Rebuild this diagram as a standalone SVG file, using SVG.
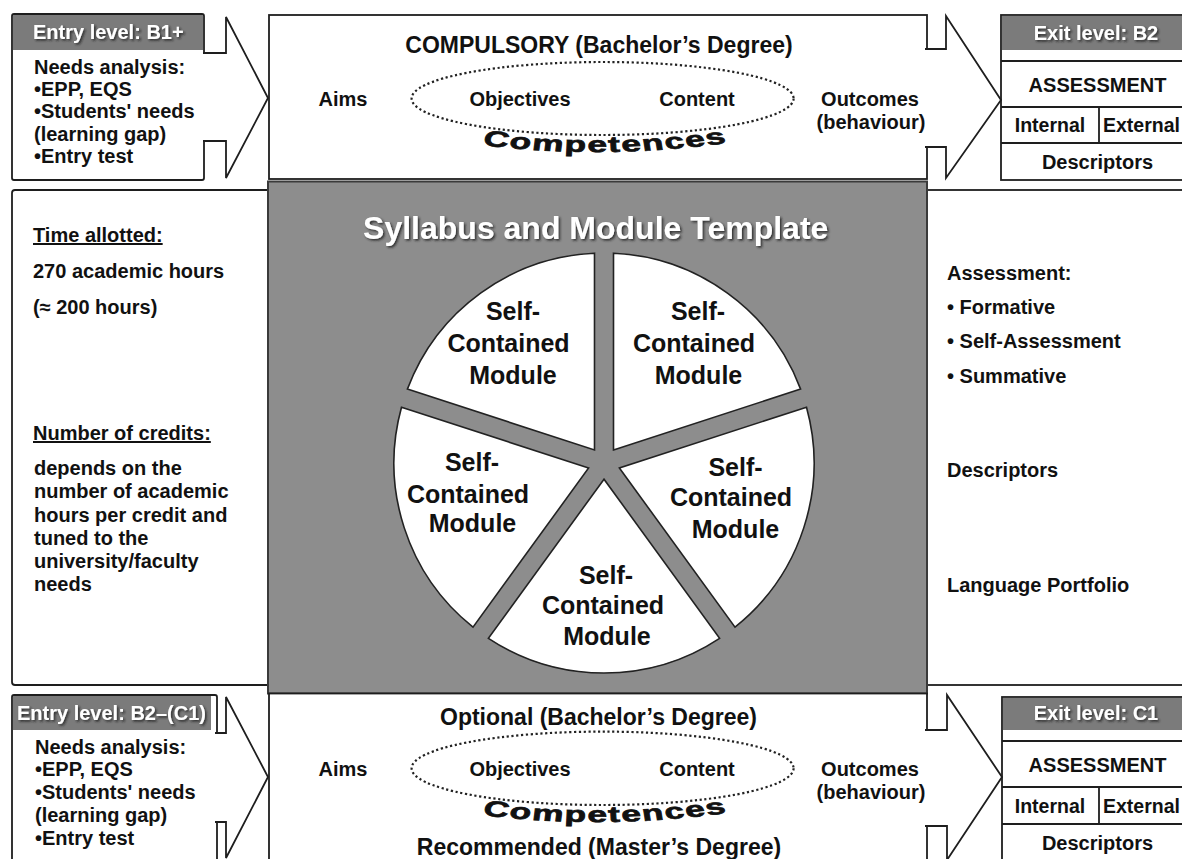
<svg xmlns="http://www.w3.org/2000/svg" width="1182" height="859" viewBox="0 0 1182 859">
<defs>
<style>
.ln{fill:#fff;stroke:#1e1e1e;stroke-width:1.8}
.sep{fill:none;stroke:#1e1e1e;stroke-width:1.8}
.hd{fill:#7b7b7b}
.tx{font-family:"Liberation Sans",Arial,Helvetica,sans-serif;font-weight:700;fill:#111}
.f20{font-size:20px}
.f19{font-size:19.5px}
.f23{font-size:23px}
.f25{font-size:25px}
.c{text-anchor:middle}
.wh{fill:#fff;filter:url(#sh)}
.dot{fill:none;stroke:#222;stroke-width:2.2;stroke-dasharray:2.2 2.6}
.slice{fill:#fff;stroke:#222;stroke-width:1.6}
.ul{text-decoration:underline}
.comp{font-family:"Liberation Sans",Arial,sans-serif;font-weight:700;font-size:22px;fill:#111;stroke:#111;stroke-width:0.7;letter-spacing:1px}
</style>
<filter id="sh" x="-5%" y="-20%" width="110%" height="150%">
<feDropShadow dx="1.6" dy="1.6" stdDeviation="1" flood-color="#222" flood-opacity="0.85"/>
</filter>
<path id="arcTop" d="M 485,134.4 Q 605,171.57 725,130.45"/>
<path id="arcBot" d="M 485,804.4 Q 605,841.57 725,800.45"/>
</defs>

<!-- Top-left entry box -->
<g id="entry-b1">
<rect class="ln" x="12" y="14" width="192" height="166" rx="2"/>
<rect class="hd" x="13" y="15" width="190" height="35"/>
<text class="tx f20 wh" x="33" y="39">Entry level: B1+</text>
<text class="tx f20" x="34" y="74">Needs analysis:</text>
<text class="tx f20" x="34" y="96">•EPP, EQS</text>
<text class="tx f20" x="34" y="118">•Students' needs</text>
<text class="tx f20" x="34" y="141">(learning gap)</text>
<text class="tx f20" x="34" y="163">•Entry test</text>
</g>

<!-- Top central box -->
<g id="compulsory">
<rect class="ln" x="269" y="15" width="658" height="164"/>
<text class="tx f23 c" x="599" y="53">COMPULSORY (Bachelor’s Degree)</text>
<ellipse class="dot" cx="602.6" cy="98.5" rx="191" ry="36.5"/>
<text class="tx f20 c" x="343" y="106">Aims</text>
<text class="tx f20 c" x="520" y="106">Objectives</text>
<text class="tx f20 c" x="697" y="106">Content</text>
<text class="tx f20 c" x="870" y="106">Outcomes</text>
<text class="tx f20 c" x="871" y="129">(behaviour)</text>
<g transform="matrix(1.6 0 0 1 -363 0)">
<text class="comp"><textPath href="#arcTop" startOffset="50%" text-anchor="middle">Competences</textPath></text>
</g>
</g>

<!-- Top exit box -->
<g id="exit-b2">
<rect class="ln" x="1001" y="15" width="193" height="165"/>
<rect class="hd" x="1002" y="16" width="191" height="34"/>
<text class="tx f20 c wh" x="1096" y="40">Exit level: B2</text>
<path class="sep" d="M1001,61 H1194 M1001,107 H1194 M1001,143 H1194 M1099,107 V143"/>
<text class="tx f20 c" x="1097.5" y="92">ASSESSMENT</text>
<text class="tx f19 c" x="1050" y="132">Internal</text>
<text class="tx f19" x="1103" y="132">External</text>
<text class="tx f20 c" x="1097.5" y="169">Descriptors</text>
</g>

<!-- Middle left box -->
<g id="time-credits">
<rect class="ln" x="12" y="190" width="258" height="495" rx="3"/>
<text class="tx f20 ul" x="33" y="242">Time allotted:</text>
<text class="tx f20" x="33" y="278">270 academic hours</text>
<text class="tx f20" x="33" y="314">(≈ 200 hours)</text>
<text class="tx f20 ul" x="33" y="440">Number of credits:</text>
<text class="tx f20" x="34" y="475">depends on the</text>
<text class="tx f20" x="34" y="498">number of academic</text>
<text class="tx f20" x="34" y="521.5">hours per credit and</text>
<text class="tx f20" x="34" y="545">tuned to the</text>
<text class="tx f20" x="34" y="568">university/faculty</text>
<text class="tx f20" x="34" y="591">needs</text>
</g>

<!-- Middle right box -->
<g id="assessment-info">
<rect class="ln" x="925" y="190" width="270" height="495"/>
<text class="tx f20" x="947" y="280">Assessment:</text>
<text class="tx f20" x="947" y="313.5">• Formative</text>
<text class="tx f20" x="947" y="348">• Self-Assessment</text>
<text class="tx f20" x="947" y="383">• Summative</text>
<text class="tx f20" x="947" y="477">Descriptors</text>
<text class="tx f20" x="947" y="592">Language Portfolio</text>
</g>

<!-- Central template -->
<g id="template">
<rect x="268" y="181.5" width="659" height="512" fill="#8d8d8d" stroke="#3a3a3a" stroke-width="2"/>
<text class="tx c wh" x="595.7" y="239" style="font-size:32px">Syllabus and Module Template</text>
<g id="module-top-left">
<path class="slice" d="M594.5,449.9 L594.5,253.2 A210,210 0 0 0 407.4,389.1 Z"/>
<text class="tx f25 c" x="513" y="320">Self-</text>
<text class="tx f25 c" x="508.5" y="352">Contained</text>
<text class="tx f25 c" x="513" y="384">Module</text>
</g>
<g id="module-top-right">
<path class="slice" d="M613.5,449.9 L800.6,389.1 A210,210 0 0 0 613.5,253.2 Z"/>
<text class="tx f25 c" x="698" y="320">Self-</text>
<text class="tx f25 c" x="694" y="352">Contained</text>
<text class="tx f25 c" x="698.5" y="384">Module</text>
</g>
<g id="module-right">
<path class="slice" d="M619.4,468 L735,627.1 A210,210 0 0 0 806.5,407.2 Z"/>
<text class="tx f25 c" x="735.5" y="475.5">Self-</text>
<text class="tx f25 c" x="731" y="506">Contained</text>
<text class="tx f25 c" x="735.5" y="538">Module</text>
</g>
<g id="module-bottom">
<path class="slice" d="M604,479.2 L488.4,638.3 A210,210 0 0 0 719.6,638.3 Z"/>
<text class="tx f25 c" x="606" y="584">Self-</text>
<text class="tx f25 c" x="603" y="614">Contained</text>
<text class="tx f25 c" x="607" y="645">Module</text>
</g>
<g id="module-left">
<path class="slice" d="M588.6,468 L401.5,407.2 A210,210 0 0 0 473,627.1 Z"/>
<text class="tx f25 c" x="472" y="470.5">Self-</text>
<text class="tx f25 c" x="468" y="502.5">Contained</text>
<text class="tx f25 c" x="472.5" y="531.5">Module</text>
</g>
</g>

<!-- Bottom-left entry box -->
<g id="entry-b2">
<rect class="ln" x="12" y="695" width="205" height="190" rx="2"/>
<rect class="hd" x="13" y="696" width="198" height="34"/>
<text class="tx f20 wh" x="17" y="720">Entry level: B2–(C1)</text>
<text class="tx f20" x="35" y="754">Needs analysis:</text>
<text class="tx f20" x="35" y="776">•EPP, EQS</text>
<text class="tx f20" x="35" y="799">•Students' needs</text>
<text class="tx f20" x="35" y="822">(learning gap)</text>
<text class="tx f20" x="35" y="845">•Entry test</text>
</g>

<!-- Bottom central box -->
<g id="optional">
<rect class="ln" x="269" y="693.5" width="658" height="190"/>
<text class="tx f23 c" x="598.5" y="725">Optional (Bachelor’s Degree)</text>
<ellipse class="dot" cx="602.6" cy="768.3" rx="191" ry="36.7"/>
<text class="tx f20 c" x="343" y="776">Aims</text>
<text class="tx f20 c" x="520" y="776">Objectives</text>
<text class="tx f20 c" x="697" y="776">Content</text>
<text class="tx f20 c" x="870" y="776">Outcomes</text>
<text class="tx f20 c" x="871" y="799">(behaviour)</text>
<g transform="matrix(1.6 0 0 1 -363 0)">
<text class="comp"><textPath href="#arcBot" startOffset="50%" text-anchor="middle">Competences</textPath></text>
</g>
<text class="tx f23 c" x="599" y="854.5">Recommended (Master’s Degree)</text>
</g>

<!-- Bottom exit box -->
<g id="exit-c1">
<rect class="ln" x="1002" y="697" width="192" height="190"/>
<rect class="hd" x="1003" y="698" width="190" height="32"/>
<text class="tx f20 c wh" x="1096" y="720">Exit level: C1</text>
<path class="sep" d="M1002,741 H1194 M1002,787 H1194 M1002,824 H1194 M1099,787 V824"/>
<text class="tx f20 c" x="1097.5" y="772">ASSESSMENT</text>
<text class="tx f19 c" x="1050" y="813">Internal</text>
<text class="tx f19" x="1103" y="813">External</text>
<text class="tx f20 c" x="1097.5" y="850">Descriptors</text>
</g>

<!-- Block arrows -->
<g id="connectors" class="ln">
<path d="M203,53 H226 V17 L268,98 L226,178 V141 H203"/>
<path d="M925,49 H946 V16 L1001,100 L946,178 V147 H925"/>
<path d="M215,733 H226 V697 L268,777 L226,858 V822 H215"/>
<path d="M925,730 H947 V695 L1002,777 L947,860 V826 H925"/>
</g>
</svg>
